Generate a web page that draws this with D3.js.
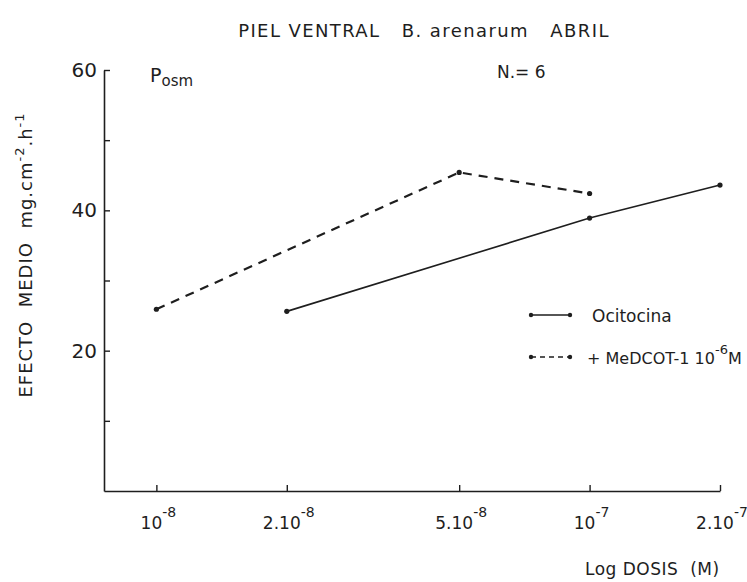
<!DOCTYPE html>
<html>
<head>
<meta charset="utf-8">
<script src="https://cdn.jsdelivr.net/npm/d3@7"></script>
<style>
  body { margin: 0; background: #fff; }
  text { font-family: "DejaVu Sans", sans-serif; fill: #1e1e1e; }
</style>
</head>
<body>
<div id="chart"></div>
<script>
const doses = [1e-8, 2e-8, 5e-8, 1e-7, 2e-7];
const tickBase = ["10", "2.10", "5.10", "10", "2.10"];
const tickExp = ["-8", "-8", "-8", "-7", "-7"];
const yTicks = [10, 20, 30, 40, 50, 60];
const yLabels = [20, 40, 60];

const ocitocinaDose = [2e-8, 1e-7, 2e-7];
const ocitocinaValue = [25.6, 38.9, 43.6];
const medcotDose = [1e-8, 5e-8, 1e-7];
const medcotValue = [25.9, 45.4, 42.4];

const width = 747;
const height = 582;
const ink = "#1e1e1e";

const svg = d3.select("#chart")
    .append("svg")
    .attr("width", width)
    .attr("height", height);

const xScale = d3.scaleLog()
    .domain([7.57e-9, 2e-7])
    .range([104, 720]);

const yScale = d3.scaleLinear()
    .domain([0, 60])
    .range([491, 70]);

// axes (ticks point inward, like the drawing)
const xAxis = svg.append("g")
    .attr("transform", `translate(0,${yScale(0)})`)
    .call(d3.axisBottom(xScale).tickValues(doses).tickSize(-6).tickSizeOuter(0).tickFormat(""));

const yAxis = svg.append("g")
    .attr("transform", `translate(${xScale.range()[0]},0)`)
    .call(d3.axisLeft(yScale).tickValues(yTicks).tickSize(-6).tickSizeOuter(0).tickFormat(""));

svg.selectAll(".domain").attr("stroke", ink).attr("stroke-width", 1.6);
svg.selectAll(".tick line").attr("stroke", ink).attr("stroke-width", 1.4);

// y tick labels
svg.selectAll(".ylab")
    .data(yLabels)
    .enter()
    .append("text")
    .attr("x", 97)
    .attr("y", d => yScale(d) + 7)
    .attr("text-anchor", "end")
    .attr("font-size", 20)
    .text(d => d);

// x tick labels with exponents
const xl = svg.selectAll(".xlab")
    .data(doses)
    .enter()
    .append("text")
    .attr("x", d => xScale(d) + 2)
    .attr("y", 529)
    .attr("text-anchor", "middle")
    .attr("font-size", 17);
xl.append("tspan").text((d, i) => tickBase[i]);
xl.append("tspan").attr("dy", -12).attr("font-size", 14).text((d, i) => tickExp[i]);

// series
const line = d3.line()
    .x(d => xScale(d[0]))
    .y(d => yScale(d[1]));

const oci = d3.zip(ocitocinaDose, ocitocinaValue);
const med = d3.zip(medcotDose, medcotValue);

svg.append("path")
    .datum(oci)
    .attr("d", line)
    .attr("fill", "none")
    .attr("stroke", ink)
    .attr("stroke-width", 1.6);

svg.append("path")
    .datum(med)
    .attr("d", line)
    .attr("fill", "none")
    .attr("stroke", ink)
    .attr("stroke-width", 2.2)
    .attr("stroke-dasharray", "9,7");

svg.selectAll(".pt")
    .data(oci.concat(med))
    .enter()
    .append("circle")
    .attr("cx", d => xScale(d[0]))
    .attr("cy", d => yScale(d[1]))
    .attr("r", 2.6)
    .attr("fill", ink);

// titles and labels
svg.append("text")
    .attr("x", 424)
    .attr("y", 37)
    .attr("text-anchor", "middle")
    .attr("font-size", 18)
    .attr("letter-spacing", 1.4)
    .attr("xml:space", "preserve")
    .text("PIEL VENTRAL   B. arenarum   ABRIL");

const posm = svg.append("text")
    .attr("x", 150)
    .attr("y", 82)
    .attr("font-size", 19);
posm.append("tspan").text("P");
posm.append("tspan").attr("dy", 4).attr("font-size", 15).text("osm");

svg.append("text")
    .attr("x", 497)
    .attr("y", 78)
    .attr("font-size", 17)
    .text("N.= 6");

const yAxisLabel = svg.append("text")
    .attr("transform", "rotate(-90)")
    .attr("x", -255)
    .attr("y", 32)
    .attr("text-anchor", "middle")
    .attr("font-size", 18)
    .attr("letter-spacing", 1)
    .attr("xml:space", "preserve");
yAxisLabel.append("tspan").text("EFECTO  MEDIO  mg.cm");
yAxisLabel.append("tspan").attr("dy", -8).attr("font-size", 13).text("-2");
yAxisLabel.append("tspan").attr("dy", 8).text(".h");
yAxisLabel.append("tspan").attr("dy", -8).attr("font-size", 13).text("-1");

svg.append("text")
    .attr("x", 585)
    .attr("y", 575)
    .attr("font-size", 17)
    .attr("letter-spacing", 0.5)
    .attr("xml:space", "preserve")
    .text("Log DOSIS  (M)");

// legend
const legend = svg.append("g");
const legendRows = [
    { dash: null, y: 315 },
    { dash: "5,4", y: 357 }
];
legendRows.forEach(function(r) {
    legend.append("line")
        .attr("x1", 531).attr("x2", 570)
        .attr("y1", r.y).attr("y2", r.y)
        .attr("stroke", ink)
        .attr("stroke-width", 1.6)
        .attr("stroke-dasharray", r.dash);
    legend.selectAll(null)
        .data([531, 570])
        .enter()
        .append("circle")
        .attr("cx", d => d)
        .attr("cy", r.y)
        .attr("r", 2.2)
        .attr("fill", ink);
});
legend.append("text")
    .attr("x", 592).attr("y", 322)
    .attr("font-size", 17)
    .text("Ocitocina");
const lt = legend.append("text")
    .attr("x", 587).attr("y", 364)
    .attr("font-size", 16);
lt.append("tspan").text("+ MeDCOT-1 10");
lt.append("tspan").attr("dy", -10).attr("font-size", 13).text("-6");
lt.append("tspan").attr("dy", 10).text("M");
</script>
</body>
</html>
